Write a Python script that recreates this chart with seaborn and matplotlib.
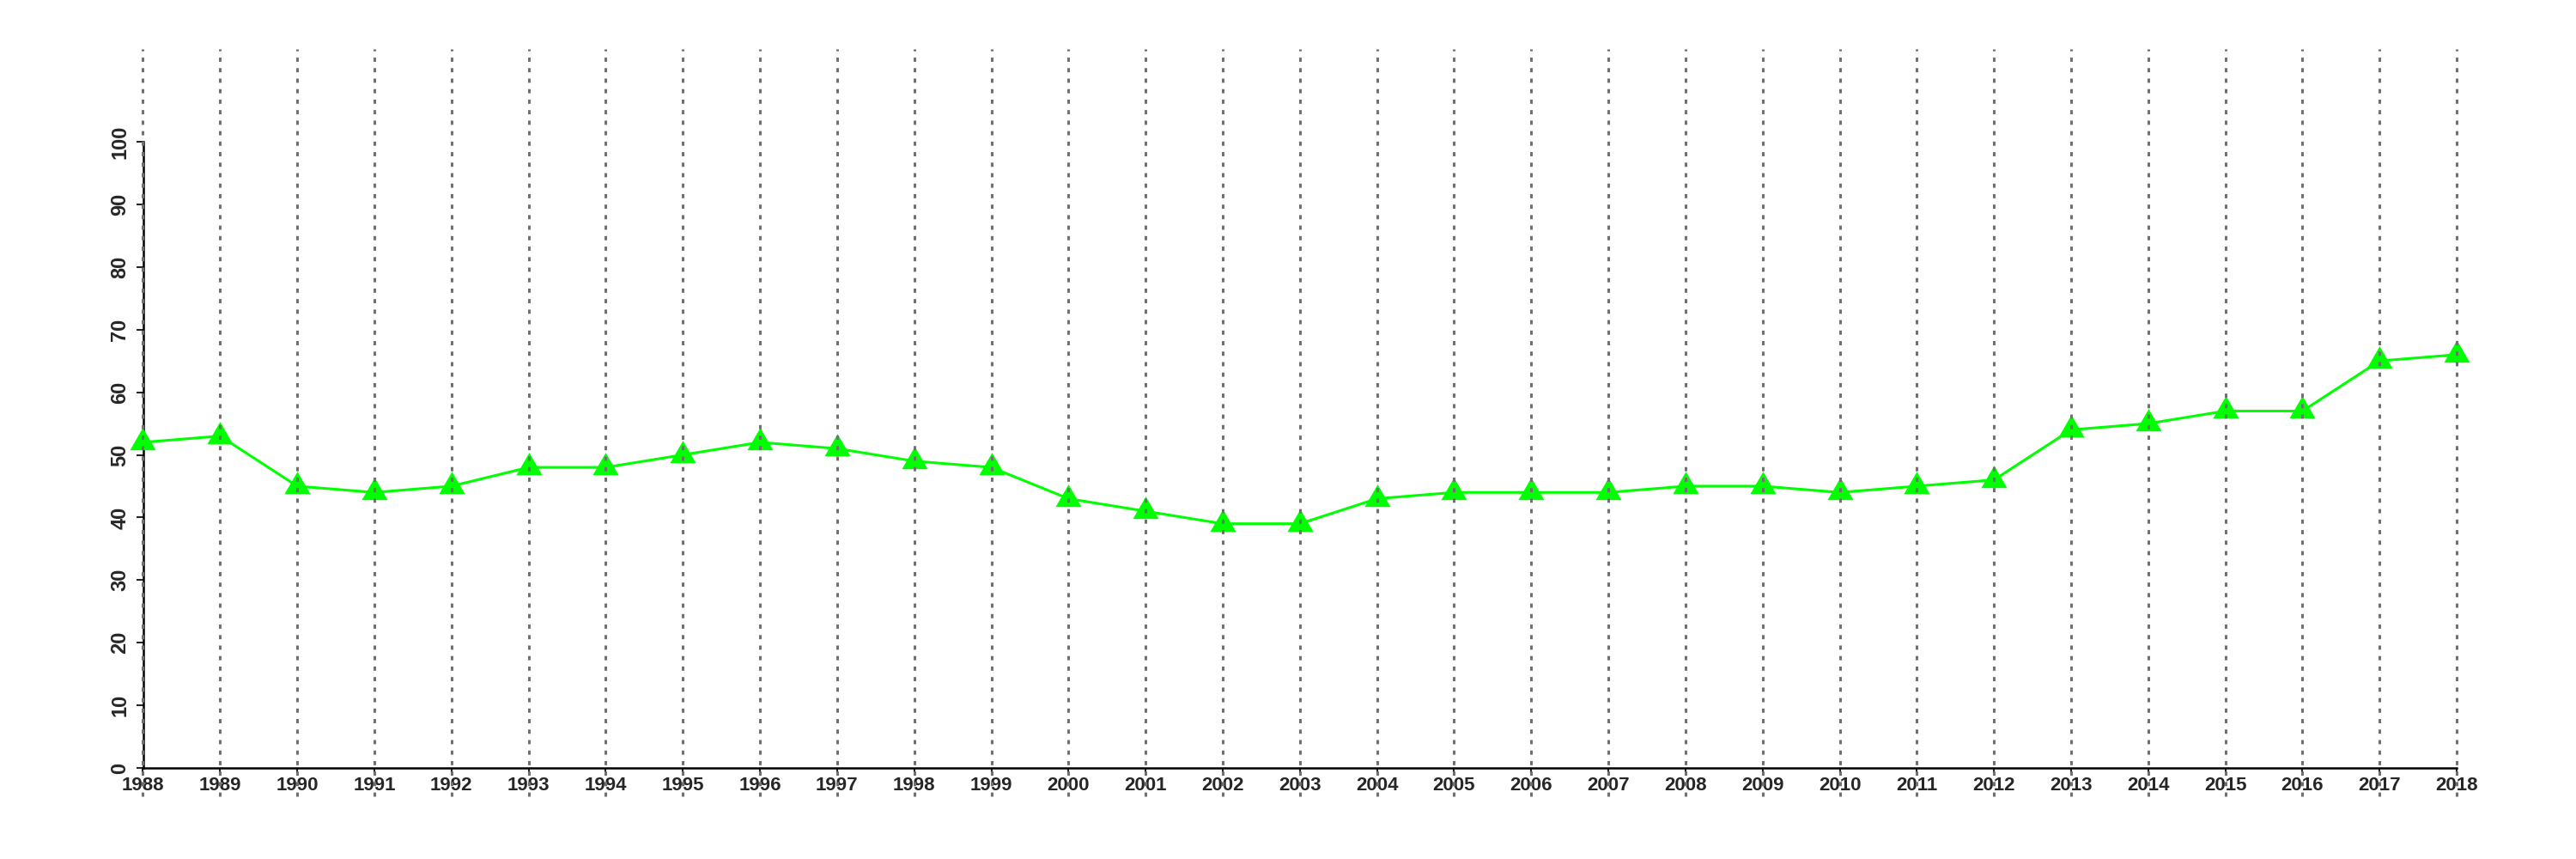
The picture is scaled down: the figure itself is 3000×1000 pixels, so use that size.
import pandas as pd
import seaborn as sns
import matplotlib.pyplot as plt

# values
years = list(range(1988, 2019))
values = [52, 53, 45, 44, 45, 48, 48, 50, 52, 51, 49, 48, 43, 41, 39, 39,
          43, 44, 44, 44, 45, 45, 44, 45, 46, 54, 55, 57, 57, 65, 66]
y_ticks = [0, 10, 20, 30, 40, 50, 60, 70, 80, 90, 100]

df = pd.DataFrame({'year': years, 'value': values})

sns.set_style('white')
plt.rcParams['font.family'] = ['Liberation Sans', 'DejaVu Sans']
plt.rcParams['font.weight'] = 'bold'

fig = plt.figure(figsize=(30, 10), dpi=100)
ax = fig.add_axes([0.0555, 0.106, 0.8982, 0.729])

# green line with equilateral triangle markers
sns.lineplot(data=df, x='year', y='value', ax=ax, color='#00ff00', lw=2.2,
             marker=(3, 0, 0), markersize=25, markeredgewidth=0, zorder=3)
for line in ax.lines:
    line.set_clip_on(False)

# vertical dotted grid lines that run past the plot area, drawn on top
for yr in years:
    ax.axvline(yr, ymin=-0.045, ymax=1.148, color='#707070', lw=2.2,
               linestyle=(0, (1.6, 2.4)), clip_on=False, zorder=4)

ax.set_xlim(1988, 2018)
ax.set_ylim(0, 100)
ax.set_xticks(years)
ax.set_xticklabels([str(y) for y in years], fontsize=16, fontweight='bold')
ax.set_yticks(y_ticks)
ax.set_yticklabels([str(v) for v in y_ticks], fontsize=17, fontweight='bold',
                   rotation=90, va='center')
ax.tick_params(axis='x', length=4, width=1.5, pad=3, direction='out', bottom=True)
ax.tick_params(axis='y', length=6, width=1.5, pad=5, direction='out', left=True)
ax.set_xlabel('')
ax.set_ylabel('')

sns.despine(ax=ax)
for side in ['left', 'bottom']:
    ax.spines[side].set_linewidth(1.8)
    ax.spines[side].set_color('black')

fig.savefig('out.png', dpi=100)
